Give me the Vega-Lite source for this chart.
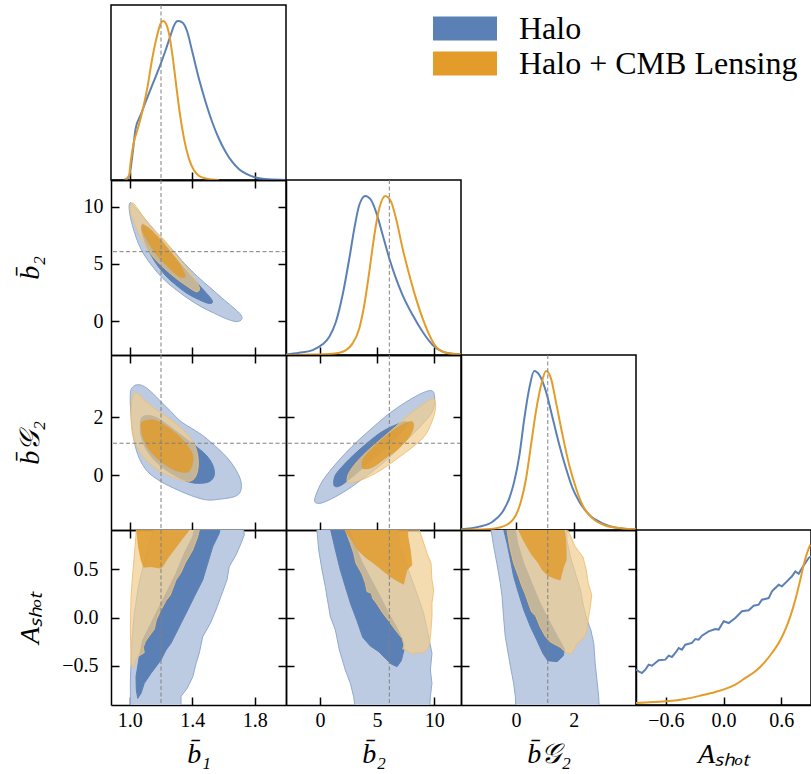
{
"$schema": "https://vega.github.io/schema/vega-lite/v6.json",
"background": "white",
"padding": {"left": 16, "top": 3, "right": 0, "bottom": 0},
"columns": 4, "spacing": 0, "bounds": "flush",
"config": {
 "view": {"stroke": null},
 "font": "Liberation Serif",
 "style": {"guide-label": {"font": "Liberation Serif", "fontSize": 20, "fill": "black"}, "guide-title": {"font": "Liberation Serif"}},
 "axis": {"domainColor": "black", "domainWidth": 1.5, "tickColor": "black", "tickWidth": 1.5, "tickSize": -8, "labelFont": "Liberation Serif", "labelFontSize": 20, "labelColor": "black", "grid": false, "zindex": 1, "titleFont": "Liberation Serif", "titleFontSize": 28, "titleFontStyle": "italic", "titleFontWeight": "normal", "titleColor": "black", "labelFlush": false}
},
"datasets": {
 "d_b1_H": [{"x":0.964,"y":0},{"x":0.996,"y":0.021},{"x":1.017,"y":0.157},{"x":1.038,"y":0.324},{"x":1.07,"y":0.409},{"x":1.102,"y":0.492},{"x":1.144,"y":0.597},{"x":1.187,"y":0.701},{"x":1.23,"y":0.817},{"x":1.262,"y":0.911},{"x":1.283,"y":0.97},{"x":1.308,"y":0.999},{"x":1.336,"y":0.991},{"x":1.368,"y":0.932},{"x":1.4,"y":0.807},{"x":1.442,"y":0.639},{"x":1.485,"y":0.492},{"x":1.527,"y":0.366},{"x":1.57,"y":0.261},{"x":1.613,"y":0.178},{"x":1.655,"y":0.115},{"x":1.698,"y":0.069},{"x":1.74,"y":0.041},{"x":1.804,"y":0.016},{"x":1.889,"y":0.004},{"x":2.0,"y":0}],
 "d_b1_C": [{"x":0.974,"y":0},{"x":0.996,"y":0.031},{"x":1.006,"y":0.115},{"x":1.027,"y":0.241},{"x":1.049,"y":0.314},{"x":1.08,"y":0.429},{"x":1.112,"y":0.576},{"x":1.144,"y":0.764},{"x":1.176,"y":0.911},{"x":1.198,"y":0.984},{"x":1.214,"y":0.999},{"x":1.234,"y":0.978},{"x":1.255,"y":0.901},{"x":1.276,"y":0.764},{"x":1.297,"y":0.597},{"x":1.319,"y":0.429},{"x":1.347,"y":0.262},{"x":1.378,"y":0.136},{"x":1.41,"y":0.063},{"x":1.442,"y":0.027},{"x":1.485,"y":0.01},{"x":1.57,"y":0}],
 "d_b2_H": [{"x":-2.97,"y":0.003},{"x":-1.81,"y":0.014},{"x":-0.64,"y":0.031},{"x":0.23,"y":0.067},{"x":0.82,"y":0.115},{"x":1.4,"y":0.209},{"x":1.98,"y":0.377},{"x":2.57,"y":0.607},{"x":3.01,"y":0.796},{"x":3.44,"y":0.943},{"x":3.97,"y":1.0},{"x":4.47,"y":0.974},{"x":4.9,"y":0.901},{"x":5.49,"y":0.754},{"x":6.07,"y":0.607},{"x":6.65,"y":0.482},{"x":7.23,"y":0.377},{"x":8.11,"y":0.251},{"x":8.98,"y":0.146},{"x":9.86,"y":0.063},{"x":10.73,"y":0.021},{"x":11.61,"y":0.008},{"x":12.34,"y":0.003}],
 "d_b2_C": [{"x":-2.97,"y":0},{"x":-0.64,"y":0.003},{"x":0.82,"y":0.006},{"x":1.69,"y":0.014},{"x":2.28,"y":0.031},{"x":2.86,"y":0.073},{"x":3.44,"y":0.167},{"x":3.88,"y":0.314},{"x":4.32,"y":0.524},{"x":4.76,"y":0.754},{"x":5.19,"y":0.922},{"x":5.72,"y":1.0},{"x":6.22,"y":0.964},{"x":6.65,"y":0.859},{"x":7.23,"y":0.67},{"x":7.82,"y":0.503},{"x":8.4,"y":0.356},{"x":8.98,"y":0.23},{"x":9.57,"y":0.126},{"x":10.15,"y":0.052},{"x":11.03,"y":0.014},{"x":12.34,"y":0.003}],
 "d_g_H": [{"x":-1.9,"y":0.004},{"x":-1.27,"y":0.021},{"x":-0.81,"y":0.052},{"x":-0.46,"y":0.115},{"x":-0.23,"y":0.199},{"x":-0.06,"y":0.304},{"x":0.12,"y":0.471},{"x":0.29,"y":0.702},{"x":0.46,"y":0.89},{"x":0.63,"y":1.0},{"x":0.81,"y":0.974},{"x":1.04,"y":0.869},{"x":1.27,"y":0.702},{"x":1.5,"y":0.534},{"x":1.73,"y":0.387},{"x":1.96,"y":0.261},{"x":2.19,"y":0.178},{"x":2.54,"y":0.094},{"x":2.99,"y":0.042},{"x":3.46,"y":0.015},{"x":4.15,"y":0.004}],
 "d_g_C": [{"x":-1.9,"y":0},{"x":-1.04,"y":0.004},{"x":-0.58,"y":0.015},{"x":-0.23,"y":0.042},{"x":0.0,"y":0.094},{"x":0.17,"y":0.178},{"x":0.35,"y":0.324},{"x":0.52,"y":0.534},{"x":0.69,"y":0.744},{"x":0.87,"y":0.911},{"x":1.04,"y":1.0},{"x":1.21,"y":0.953},{"x":1.38,"y":0.807},{"x":1.61,"y":0.597},{"x":1.84,"y":0.409},{"x":2.08,"y":0.261},{"x":2.3,"y":0.157},{"x":2.65,"y":0.073},{"x":3.11,"y":0.027},{"x":3.69,"y":0.01},{"x":4.15,"y":0.004}],
 "d_A_H": [{"x":-0.91,"y":0.222},{"x":-0.882,"y":0.212},{"x":-0.848,"y":0.201},{"x":-0.813,"y":0.222},{"x":-0.778,"y":0.254},{"x":-0.744,"y":0.247},{"x":-0.709,"y":0.264},{"x":-0.674,"y":0.281},{"x":-0.605,"y":0.285},{"x":-0.57,"y":0.31},{"x":-0.536,"y":0.302},{"x":-0.501,"y":0.327},{"x":-0.466,"y":0.358},{"x":-0.432,"y":0.348},{"x":-0.397,"y":0.379},{"x":-0.328,"y":0.39},{"x":-0.293,"y":0.415},{"x":-0.258,"y":0.411},{"x":-0.224,"y":0.436},{"x":-0.154,"y":0.463},{"x":-0.085,"y":0.478},{"x":-0.05,"y":0.474},{"x":0.002,"y":0.526},{"x":0.054,"y":0.515},{"x":0.123,"y":0.547},{"x":0.192,"y":0.589},{"x":0.262,"y":0.595},{"x":0.314,"y":0.624},{"x":0.366,"y":0.631},{"x":0.4,"y":0.662},{"x":0.47,"y":0.672},{"x":0.504,"y":0.714},{"x":0.539,"y":0.735},{"x":0.574,"y":0.756},{"x":0.608,"y":0.746},{"x":0.66,"y":0.777},{"x":0.712,"y":0.809},{"x":0.747,"y":0.84},{"x":0.782,"y":0.825},{"x":0.817,"y":0.861},{"x":0.851,"y":0.893},{"x":0.886,"y":0.924},{"x":0.91,"y":0.934}],
 "d_A_C": [{"x":-0.91,"y":0.013},{"x":-0.605,"y":0.023},{"x":-0.397,"y":0.038},{"x":-0.224,"y":0.061},{"x":-0.085,"y":0.082},{"x":0.019,"y":0.101},{"x":0.123,"y":0.128},{"x":0.227,"y":0.17},{"x":0.331,"y":0.212},{"x":0.435,"y":0.274},{"x":0.504,"y":0.327},{"x":0.574,"y":0.39},{"x":0.643,"y":0.474},{"x":0.695,"y":0.557},{"x":0.747,"y":0.662},{"x":0.799,"y":0.788},{"x":0.834,"y":0.882},{"x":0.869,"y":0.955},{"x":0.903,"y":1.008}],
 "c_12_BO": [{"x":1.008,"y":10.36},{"x":1.04,"y":9.86},{"x":1.093,"y":8.99},{"x":1.157,"y":7.97},{"x":1.221,"y":6.95},{"x":1.285,"y":6.07},{"x":1.349,"y":5.05},{"x":1.435,"y":3.88},{"x":1.52,"y":2.86},{"x":1.605,"y":1.84},{"x":1.669,"y":1.11},{"x":1.712,"y":0.53},{"x":1.716,"y":0.15},{"x":1.686,"y":-0.05},{"x":1.627,"y":0.15},{"x":1.541,"y":0.68},{"x":1.456,"y":1.26},{"x":1.371,"y":1.99},{"x":1.285,"y":2.86},{"x":1.211,"y":3.74},{"x":1.147,"y":4.76},{"x":1.093,"y":5.78},{"x":1.055,"y":6.8},{"x":1.029,"y":7.82},{"x":1.008,"y":8.84},{"x":0.997,"y":9.72},{"x":0.997,"y":10.15}],
 "c_12_BI": [{"x":1.083,"y":8.49},{"x":1.125,"y":7.97},{"x":1.2,"y":6.95},{"x":1.275,"y":5.78},{"x":1.349,"y":4.61},{"x":1.424,"y":3.45},{"x":1.488,"y":2.48},{"x":1.526,"y":1.84},{"x":1.524,"y":1.55},{"x":1.488,"y":1.61},{"x":1.424,"y":1.99},{"x":1.36,"y":2.48},{"x":1.296,"y":3.15},{"x":1.232,"y":3.94},{"x":1.168,"y":5.05},{"x":1.119,"y":6.22},{"x":1.089,"y":7.24},{"x":1.076,"y":7.97}],
 "c_12_OO": [{"x":1.012,"y":10.3},{"x":1.029,"y":10.24},{"x":1.072,"y":9.42},{"x":1.136,"y":8.26},{"x":1.221,"y":7.09},{"x":1.307,"y":5.63},{"x":1.392,"y":4.18},{"x":1.439,"y":3.15},{"x":1.445,"y":2.72},{"x":1.424,"y":2.57},{"x":1.371,"y":3.01},{"x":1.296,"y":3.74},{"x":1.221,"y":4.61},{"x":1.157,"y":5.49},{"x":1.104,"y":6.51},{"x":1.061,"y":7.53},{"x":1.025,"y":8.7},{"x":1.004,"y":9.57},{"x":1.002,"y":10.07}],
 "c_12_OI": [{"x":1.083,"y":8.4},{"x":1.125,"y":8.11},{"x":1.189,"y":7.24},{"x":1.253,"y":6.22},{"x":1.317,"y":5.05},{"x":1.354,"y":4.03},{"x":1.349,"y":3.83},{"x":1.317,"y":3.88},{"x":1.264,"y":4.47},{"x":1.211,"y":5.2},{"x":1.157,"y":6.07},{"x":1.115,"y":6.95},{"x":1.087,"y":7.67},{"x":1.076,"y":8.11}],
 "c_1g_BO": [{"x":1.012,"y":2.998},{"x":1.04,"y":3.113},{"x":1.083,"y":3.09},{"x":1.136,"y":2.882},{"x":1.2,"y":2.537},{"x":1.264,"y":2.191},{"x":1.328,"y":1.845},{"x":1.403,"y":1.592},{"x":1.477,"y":1.327},{"x":1.563,"y":0.923},{"x":1.627,"y":0.577},{"x":1.68,"y":0.174},{"x":1.712,"y":-0.229},{"x":1.708,"y":-0.575},{"x":1.669,"y":-0.748},{"x":1.584,"y":-0.828},{"x":1.499,"y":-0.863},{"x":1.413,"y":-0.748},{"x":1.307,"y":-0.517},{"x":1.2,"y":-0.229},{"x":1.115,"y":0.117},{"x":1.061,"y":0.577},{"x":1.029,"y":1.154},{"x":1.012,"y":1.845},{"x":1.004,"y":2.421},{"x":1.004,"y":2.825}],
 "c_1g_BI": [{"x":1.083,"y":2.018},{"x":1.157,"y":2.018},{"x":1.243,"y":1.73},{"x":1.328,"y":1.384},{"x":1.413,"y":1.039},{"x":1.488,"y":0.693},{"x":1.531,"y":0.347},{"x":1.541,"y":0.001},{"x":1.509,"y":-0.229},{"x":1.435,"y":-0.287},{"x":1.36,"y":-0.206},{"x":1.264,"y":0.059},{"x":1.179,"y":0.405},{"x":1.115,"y":0.808},{"x":1.076,"y":1.269},{"x":1.068,"y":1.672}],
 "c_1g_OO": [{"x":1.029,"y":2.825},{"x":1.055,"y":2.802},{"x":1.093,"y":2.594},{"x":1.157,"y":2.306},{"x":1.221,"y":2.076},{"x":1.307,"y":1.73},{"x":1.381,"y":1.327},{"x":1.424,"y":0.923},{"x":1.439,"y":0.462},{"x":1.43,"y":0.059},{"x":1.403,"y":-0.172},{"x":1.36,"y":-0.206},{"x":1.264,"y":-0.056},{"x":1.179,"y":0.174},{"x":1.104,"y":0.52},{"x":1.051,"y":0.923},{"x":1.019,"y":1.384},{"x":1.008,"y":1.96},{"x":1.012,"y":2.537}],
 "c_1g_OI": [{"x":1.083,"y":1.845},{"x":1.157,"y":1.903},{"x":1.253,"y":1.615},{"x":1.339,"y":1.211},{"x":1.403,"y":0.693},{"x":1.392,"y":0.232},{"x":1.36,"y":0.094},{"x":1.285,"y":0.174},{"x":1.2,"y":0.462},{"x":1.125,"y":0.866},{"x":1.083,"y":1.327},{"x":1.072,"y":1.672}],
 "c_2g_BO": [{"x":-0.46,"y":-0.92},{"x":-0.35,"y":-0.69},{"x":0.18,"y":-0.23},{"x":1.05,"y":0.23},{"x":2.22,"y":0.75},{"x":3.39,"y":1.21},{"x":4.55,"y":1.62},{"x":5.72,"y":2.02},{"x":6.89,"y":2.36},{"x":8.05,"y":2.65},{"x":9.22,"y":2.88},{"x":9.8,"y":2.91},{"x":10.01,"y":2.77},{"x":10.01,"y":2.42},{"x":9.66,"y":2.08},{"x":8.64,"y":1.62},{"x":7.47,"y":1.15},{"x":6.3,"y":0.69},{"x":5.14,"y":0.29},{"x":3.97,"y":-0.06},{"x":2.8,"y":-0.4},{"x":1.64,"y":-0.69},{"x":0.47,"y":-0.92},{"x":-0.11,"y":-0.98}],
 "c_2g_BI": [{"x":1.2,"y":-0.29},{"x":1.35,"y":0.0},{"x":2.08,"y":0.35},{"x":3.1,"y":0.75},{"x":4.26,"y":1.15},{"x":5.43,"y":1.5},{"x":6.6,"y":1.73},{"x":7.47,"y":1.85},{"x":7.62,"y":1.71},{"x":6.89,"y":1.38},{"x":5.72,"y":0.92},{"x":4.55,"y":0.52},{"x":3.39,"y":0.12},{"x":2.51,"y":-0.17},{"x":1.78,"y":-0.37},{"x":1.35,"y":-0.4}],
 "c_2g_OO": [{"x":2.37,"y":-0.21},{"x":2.51,"y":0.06},{"x":3.24,"y":0.46},{"x":4.26,"y":0.87},{"x":5.43,"y":1.27},{"x":6.6,"y":1.67},{"x":7.76,"y":2.08},{"x":8.93,"y":2.42},{"x":9.8,"y":2.63},{"x":10.09,"y":2.54},{"x":10.09,"y":2.25},{"x":9.8,"y":1.85},{"x":9.22,"y":1.38},{"x":8.34,"y":1.04},{"x":7.18,"y":0.69},{"x":6.01,"y":0.35},{"x":4.85,"y":0.06},{"x":3.82,"y":-0.14},{"x":2.95,"y":-0.25},{"x":2.51,"y":-0.26}],
 "c_2g_OI": [{"x":3.68,"y":0.29},{"x":3.82,"y":0.58},{"x":4.55,"y":0.92},{"x":5.72,"y":1.33},{"x":6.89,"y":1.67},{"x":7.91,"y":1.85},{"x":8.2,"y":1.73},{"x":7.91,"y":1.38},{"x":6.89,"y":0.92},{"x":5.72,"y":0.58},{"x":4.7,"y":0.29},{"x":3.97,"y":0.21}],
 "c_1A_BO": [{"x":1.004,"y":-1.0},{"x":1.004,"y":-0.65},{"x":1.008,"y":-0.48},{"x":1.014,"y":-0.23},{"x":1.029,"y":0.04},{"x":1.055,"y":0.32},{"x":1.089,"y":0.56},{"x":1.125,"y":0.77},{"x":1.153,"y":0.91},{"x":1.162,"y":0.98},{"x":1.729,"y":0.98},{"x":1.729,"y":0.91},{"x":1.733,"y":0.86},{"x":1.712,"y":0.77},{"x":1.68,"y":0.65},{"x":1.637,"y":0.53},{"x":1.622,"y":0.39},{"x":1.584,"y":0.22},{"x":1.552,"y":0.08},{"x":1.516,"y":-0.06},{"x":1.467,"y":-0.2},{"x":1.445,"y":-0.37},{"x":1.424,"y":-0.48},{"x":1.403,"y":-0.62},{"x":1.366,"y":-0.74},{"x":1.328,"y":-0.82},{"x":1.328,"y":-1.0}],
 "c_1A_BI": [{"x":1.424,"y":0.98},{"x":1.584,"y":0.98},{"x":1.573,"y":0.875},{"x":1.531,"y":0.737},{"x":1.499,"y":0.563},{"x":1.467,"y":0.39},{"x":1.413,"y":0.217},{"x":1.371,"y":0.078},{"x":1.328,"y":-0.061},{"x":1.296,"y":-0.165},{"x":1.264,"y":-0.269},{"x":1.232,"y":-0.338},{"x":1.2,"y":-0.442},{"x":1.136,"y":-0.581},{"x":1.093,"y":-0.685},{"x":1.072,"y":-0.789},{"x":1.051,"y":-0.841},{"x":1.042,"y":-0.754},{"x":1.04,"y":-0.615},{"x":1.061,"y":-0.407},{"x":1.083,"y":-0.234},{"x":1.136,"y":-0.061},{"x":1.189,"y":0.113},{"x":1.243,"y":0.286},{"x":1.296,"y":0.459},{"x":1.349,"y":0.667},{"x":1.403,"y":0.841}],
 "c_1A_OO": [{"x":1.046,"y":0.98},{"x":1.456,"y":0.98},{"x":1.435,"y":0.841},{"x":1.403,"y":0.702},{"x":1.354,"y":0.563},{"x":1.328,"y":0.466},{"x":1.296,"y":0.39},{"x":1.26,"y":0.234},{"x":1.232,"y":0.175},{"x":1.2,"y":0.078},{"x":1.17,"y":-0.026},{"x":1.157,"y":-0.123},{"x":1.125,"y":-0.193},{"x":1.1,"y":-0.251},{"x":1.087,"y":-0.31},{"x":1.093,"y":-0.366},{"x":1.051,"y":-0.407},{"x":1.034,"y":-0.459},{"x":1.029,"y":-0.511},{"x":1.017,"y":-0.518},{"x":1.008,"y":-0.459},{"x":1.004,"y":-0.13},{"x":1.008,"y":0.217},{"x":1.021,"y":0.494},{"x":1.034,"y":0.737},{"x":1.042,"y":0.91}],
 "c_1A_OI": [{"x":1.04,"y":0.98},{"x":1.386,"y":0.98},{"x":1.381,"y":0.91},{"x":1.339,"y":0.823},{"x":1.307,"y":0.754},{"x":1.275,"y":0.685},{"x":1.243,"y":0.615},{"x":1.217,"y":0.546},{"x":1.2,"y":0.511},{"x":1.136,"y":0.529},{"x":1.089,"y":0.522},{"x":1.072,"y":0.598},{"x":1.055,"y":0.737},{"x":1.044,"y":0.91}],
 "c_2A_BO": [{"x":-0.26,"y":0.98},{"x":6.74,"y":0.98},{"x":6.74,"y":0.91},{"x":7.03,"y":0.737},{"x":7.53,"y":0.563},{"x":8.05,"y":0.39},{"x":8.58,"y":0.217},{"x":9.07,"y":0.043},{"x":9.45,"y":-0.165},{"x":9.8,"y":-0.373},{"x":9.66,"y":-0.546},{"x":9.8,"y":-0.685},{"x":9.66,"y":-0.824},{"x":9.57,"y":-1.0},{"x":3.15,"y":-1.0},{"x":2.95,"y":-0.824},{"x":2.66,"y":-0.685},{"x":2.22,"y":-0.546},{"x":1.7,"y":-0.338},{"x":1.35,"y":-0.13},{"x":0.91,"y":0.009},{"x":0.76,"y":0.113},{"x":0.47,"y":0.321},{"x":0.18,"y":0.494},{"x":-0.11,"y":0.702},{"x":-0.26,"y":0.91}],
 "c_2A_BI": [{"x":0.76,"y":0.98},{"x":2.37,"y":0.98},{"x":3.1,"y":0.737},{"x":3.74,"y":0.563},{"x":4.5,"y":0.39},{"x":5.28,"y":0.217},{"x":6.01,"y":0.043},{"x":6.68,"y":-0.095},{"x":7.24,"y":-0.234},{"x":7.35,"y":-0.338},{"x":7.12,"y":-0.449},{"x":6.74,"y":-0.511},{"x":6.25,"y":-0.484},{"x":5.72,"y":-0.425},{"x":5.14,"y":-0.355},{"x":4.41,"y":-0.297},{"x":3.74,"y":-0.206},{"x":3.24,"y":-0.033},{"x":2.69,"y":0.14},{"x":2.22,"y":0.321},{"x":1.78,"y":0.494},{"x":1.35,"y":0.702},{"x":0.94,"y":0.91}],
 "c_2A_OO": [{"x":2.08,"y":0.98},{"x":8.58,"y":0.98},{"x":8.69,"y":0.91},{"x":8.99,"y":0.806},{"x":9.37,"y":0.667},{"x":9.72,"y":0.563},{"x":9.8,"y":0.39},{"x":9.95,"y":0.286},{"x":9.8,"y":0.147},{"x":9.8,"y":0.009},{"x":9.69,"y":-0.165},{"x":9.6,"y":-0.269},{"x":9.45,"y":-0.321},{"x":8.93,"y":-0.373},{"x":8.49,"y":-0.359},{"x":8.05,"y":-0.38},{"x":7.62,"y":-0.345},{"x":7.24,"y":-0.324},{"x":7.35,"y":-0.286},{"x":7.18,"y":-0.217},{"x":6.6,"y":-0.13},{"x":6.01,"y":-0.033},{"x":5.43,"y":0.057},{"x":4.99,"y":0.14},{"x":4.61,"y":0.199},{"x":4.5,"y":0.251},{"x":4.12,"y":0.269},{"x":3.97,"y":0.355},{"x":3.68,"y":0.452},{"x":3.15,"y":0.563},{"x":2.95,"y":0.667},{"x":2.66,"y":0.771},{"x":2.22,"y":0.91}],
 "c_2A_OI": [{"x":2.16,"y":0.98},{"x":7.62,"y":0.98},{"x":7.7,"y":0.841},{"x":7.91,"y":0.702},{"x":8.05,"y":0.546},{"x":7.62,"y":0.494},{"x":7.47,"y":0.425},{"x":7.32,"y":0.345},{"x":6.89,"y":0.373},{"x":6.16,"y":0.425},{"x":5.43,"y":0.494},{"x":4.7,"y":0.563},{"x":3.97,"y":0.626},{"x":3.24,"y":0.709},{"x":2.8,"y":0.806},{"x":2.16,"y":0.91}],
 "c_gA_BO": [{"x":-0.89,"y":0.98},{"x":1.74,"y":0.98},{"x":1.76,"y":0.806},{"x":1.88,"y":0.633},{"x":2.09,"y":0.425},{"x":2.23,"y":0.286},{"x":2.34,"y":0.113},{"x":2.46,"y":-0.026},{"x":2.59,"y":-0.13},{"x":2.69,"y":-0.269},{"x":2.74,"y":-0.477},{"x":2.8,"y":-0.65},{"x":2.86,"y":-0.824},{"x":2.89,"y":-1.0},{"x":0.01,"y":-1.0},{"x":-0.02,"y":-0.824},{"x":-0.08,"y":-0.685},{"x":-0.19,"y":-0.511},{"x":-0.25,"y":-0.407},{"x":-0.37,"y":-0.199},{"x":-0.43,"y":0.009},{"x":-0.48,"y":0.217},{"x":-0.54,"y":0.355},{"x":-0.66,"y":0.563},{"x":-0.77,"y":0.737},{"x":-0.86,"y":0.91}],
 "c_gA_BI": [{"x":-0.48,"y":0.98},{"x":-0.06,"y":0.98},{"x":0.06,"y":0.771},{"x":0.27,"y":0.563},{"x":0.55,"y":0.355},{"x":0.84,"y":0.147},{"x":1.13,"y":-0.026},{"x":1.44,"y":-0.199},{"x":1.68,"y":-0.331},{"x":1.63,"y":-0.401},{"x":1.42,"y":-0.459},{"x":1.1,"y":-0.449},{"x":0.93,"y":-0.373},{"x":0.73,"y":-0.241},{"x":0.5,"y":-0.095},{"x":0.27,"y":0.078},{"x":0.09,"y":0.251},{"x":-0.08,"y":0.425},{"x":-0.19,"y":0.598},{"x":-0.31,"y":0.771},{"x":-0.42,"y":0.91}],
 "c_gA_OO": [{"x":-0.37,"y":0.98},{"x":1.74,"y":0.98},{"x":1.79,"y":0.91},{"x":2.05,"y":0.737},{"x":2.32,"y":0.626},{"x":2.43,"y":0.494},{"x":2.5,"y":0.355},{"x":2.62,"y":0.234},{"x":2.57,"y":0.113},{"x":2.51,"y":0.002},{"x":2.46,"y":-0.102},{"x":2.43,"y":-0.165},{"x":2.28,"y":-0.234},{"x":2.11,"y":-0.269},{"x":2.06,"y":-0.31},{"x":1.9,"y":-0.38},{"x":1.74,"y":-0.366},{"x":1.53,"y":-0.31},{"x":1.19,"y":-0.255},{"x":1.02,"y":-0.199},{"x":0.84,"y":-0.102},{"x":0.68,"y":0.016},{"x":0.54,"y":0.057},{"x":0.44,"y":0.14},{"x":0.32,"y":0.244},{"x":0.21,"y":0.321},{"x":0.09,"y":0.425},{"x":-0.08,"y":0.563},{"x":-0.22,"y":0.737},{"x":-0.31,"y":0.91}],
 "c_gA_OI": [{"x":0.04,"y":0.98},{"x":1.71,"y":0.98},{"x":1.67,"y":0.91},{"x":1.72,"y":0.806},{"x":1.74,"y":0.702},{"x":1.74,"y":0.598},{"x":1.65,"y":0.529},{"x":1.58,"y":0.452},{"x":1.53,"y":0.39},{"x":1.36,"y":0.404},{"x":1.1,"y":0.438},{"x":0.91,"y":0.494},{"x":0.78,"y":0.563},{"x":0.55,"y":0.65},{"x":0.38,"y":0.737},{"x":0.24,"y":0.813},{"x":0.09,"y":0.91}]
},
"concat": [
 {"width":175,"height":175,"view":{"stroke":"black","strokeWidth":1.5},"resolve":{"axis":{"x":"independent","y":"independent"}},
  "layer":[
   {"data":{"name":"d_b1_H"},"mark":{"type":"line","interpolate":"monotone","stroke":"#5b80b5","strokeWidth":2,"clip":true},
    "encoding":{"x":{"field":"x","type":"quantitative","scale":{"domain":[0.88,2.0],"nice":false,"zero":false},"axis":{"orient":"bottom","values":[1.0,1.4,1.8],"labels":false,"title":null}},
                "y":{"field":"y","type":"quantitative","scale":{"domain":[0,1.1],"nice":false,"zero":false},"axis":null}}},
   {"data":{"name":"d_b1_C"},"mark":{"type":"line","interpolate":"monotone","stroke":"#e39c2a","strokeWidth":2,"clip":true},
    "encoding":{"x":{"field":"x","type":"quantitative","scale":{"domain":[0.88,2.0],"nice":false,"zero":false},"axis":null},
                "y":{"field":"y","type":"quantitative","scale":{"domain":[0,1.1],"nice":false,"zero":false},"axis":null}}},
   {"data":{"values":[{"v":1.2}]},"mark":{"type":"rule","stroke":"#808080","strokeWidth":1,"strokeDash":[4,2.5]},
    "encoding":{"x":{"field":"v","type":"quantitative","scale":{"domain":[0.88,2.0],"nice":false,"zero":false},"axis":null}}}
  ]},
 {"width":175,"height":175,"data":{"values":[{"s":"Halo"},{"s":"Halo + CMB Lensing"}]},"mark":{"type":"point","filled":true,"opacity":0},
  "encoding":{"color":{"field":"s","type":"nominal","scale":{"domain":["Halo","Halo + CMB Lensing"],"range":["#5b80b5","#e39c2a"]},
   "legend":{"title":null,"orient":"none","legendX":338,"legendY":7.5,"symbolType":"M-2.667,-1H2.667V1H-2.667Z","symbolSize":576,"symbolOpacity":1,"symbolStrokeWidth":0,"labelFont":"Liberation Serif","labelFontSize":32,"labelColor":"black","labelOffset":38,"labelLimit":600,"padding":0,"rowPadding":3}}}},
 {"width":175,"height":175,"data":{"values":[{"a":1}]},"mark":{"type":"point","opacity":0},"encoding":{}},
 {"width":175,"height":175,"data":{"values":[{"a":1}]},"mark":{"type":"point","opacity":0},"encoding":{}},

 {"width":175,"height":175,"resolve":{"axis":{"x":"independent","y":"independent"}},
  "layer":[
   {"data":{"name":"c_12_BO"},"mark":{"type":"line","interpolate":"cardinal-closed","filled":true,"fill":"#bccbe1","stroke":"#8faad0","strokeWidth":1,"clip":true},
    "encoding":{"x":{"field":"x","type":"quantitative","scale":{"domain":[0.88,2.0],"nice":false,"zero":false},"axis":{"orient":"bottom","values":[1.0,1.4,1.8],"labels":false,"title":null}},
                "y":{"field":"y","type":"quantitative","scale":{"domain":[-2.97,12.34],"nice":false,"zero":false},"axis":{"orient":"left","values":[0,5,10],"format":"d","labelFont":"Liberation Serif","labelFontSize":20,"labelPadding":16,"title":"b̄₂","titleX":-73,"titleY":87.5,"titleAngle":-90,"titleBaseline":"alphabetic","titleAlign":"center"}},
                "order":{"value":null}}},
   {"data":{"name":"c_12_BI"},"mark":{"type":"line","interpolate":"cardinal-closed","filled":true,"fill":"#5b80b5","stroke":"#5b80b5","strokeWidth":1,"clip":true},
    "encoding":{"x":{"field":"x","type":"quantitative","scale":{"domain":[0.88,2.0],"nice":false,"zero":false},"axis":{"orient":"top","values":[1.0,1.4,1.8],"labels":false,"title":null}},
                "y":{"field":"y","type":"quantitative","scale":{"domain":[-2.97,12.34],"nice":false,"zero":false},"axis":{"orient":"right","values":[0,5,10],"labels":false,"title":null}},
                "order":{"value":null}}},
   {"data":{"name":"c_12_OO"},"mark":{"type":"line","interpolate":"cardinal-closed","filled":true,"fill":"#f0cc8e","fillOpacity":0.7,"stroke":"#eebf72","strokeOpacity":0.9,"strokeWidth":1,"clip":true},
    "encoding":{"x":{"field":"x","type":"quantitative","scale":{"domain":[0.88,2.0],"nice":false,"zero":false},"axis":null},
                "y":{"field":"y","type":"quantitative","scale":{"domain":[-2.97,12.34],"nice":false,"zero":false},"axis":null},"order":{"value":null}}},
   {"data":{"name":"c_12_OI"},"mark":{"type":"line","interpolate":"cardinal-closed","filled":true,"fill":"#e09b2d","fillOpacity":0.85,"stroke":"#e09b2d","strokeOpacity":0.5,"strokeWidth":1,"clip":true},
    "encoding":{"x":{"field":"x","type":"quantitative","scale":{"domain":[0.88,2.0],"nice":false,"zero":false},"axis":null},
                "y":{"field":"y","type":"quantitative","scale":{"domain":[-2.97,12.34],"nice":false,"zero":false},"axis":null},"order":{"value":null}}},
   {"data":{"values":[{"v":1.2}]},"mark":{"type":"rule","stroke":"#808080","strokeWidth":1,"strokeDash":[4,2.5]},
    "encoding":{"x":{"field":"v","type":"quantitative","scale":{"domain":[0.88,2.0],"nice":false,"zero":false},"axis":null}}},
   {"data":{"values":[{"v":6.07}]},"mark":{"type":"rule","stroke":"#808080","strokeWidth":1,"strokeDash":[4,2.5]},
    "encoding":{"y":{"field":"v","type":"quantitative","scale":{"domain":[-2.97,12.34],"nice":false,"zero":false},"axis":null}}}
  ]},
 {"width":175,"height":175,"view":{"stroke":"black","strokeWidth":1.5},"resolve":{"axis":{"x":"independent","y":"independent"}},
  "layer":[
   {"data":{"name":"d_b2_H"},"mark":{"type":"line","interpolate":"monotone","stroke":"#5b80b5","strokeWidth":2,"clip":true},
    "encoding":{"x":{"field":"x","type":"quantitative","scale":{"domain":[-2.97,12.34],"nice":false,"zero":false},"axis":{"orient":"bottom","values":[0,5,10],"labels":false,"title":null}},
                "y":{"field":"y","type":"quantitative","scale":{"domain":[0,1.1],"nice":false,"zero":false},"axis":null}}},
   {"data":{"name":"d_b2_C"},"mark":{"type":"line","interpolate":"monotone","stroke":"#e39c2a","strokeWidth":2,"clip":true},
    "encoding":{"x":{"field":"x","type":"quantitative","scale":{"domain":[-2.97,12.34],"nice":false,"zero":false},"axis":null},
                "y":{"field":"y","type":"quantitative","scale":{"domain":[0,1.1],"nice":false,"zero":false},"axis":null}}},
   {"data":{"values":[{"v":6.07}]},"mark":{"type":"rule","stroke":"#808080","strokeWidth":1,"strokeDash":[4,2.5]},
    "encoding":{"x":{"field":"v","type":"quantitative","scale":{"domain":[-2.97,12.34],"nice":false,"zero":false},"axis":null}}}
  ]},
 {"width":175,"height":175,"data":{"values":[{"a":1}]},"mark":{"type":"point","opacity":0},"encoding":{}},
 {"width":175,"height":175,"data":{"values":[{"a":1}]},"mark":{"type":"point","opacity":0},"encoding":{}},

 {"width":175,"height":175,"resolve":{"axis":{"x":"independent","y":"independent"}},
  "layer":[
   {"data":{"name":"c_1g_BO"},"mark":{"type":"line","interpolate":"cardinal-closed","filled":true,"fill":"#bccbe1","stroke":"#8faad0","strokeWidth":1,"clip":true},
    "encoding":{"x":{"field":"x","type":"quantitative","scale":{"domain":[0.88,2.0],"nice":false,"zero":false},"axis":{"orient":"bottom","values":[1.0,1.4,1.8],"labels":false,"title":null}},
                "y":{"field":"y","type":"quantitative","scale":{"domain":[-1.9,4.15],"nice":false,"zero":false},"axis":{"orient":"left","values":[0,2],"format":"d","labelFont":"Liberation Serif","labelFontSize":20,"labelPadding":16,"title":"b̄𝒢₂","titleX":-73,"titleY":87.5,"titleAngle":-90,"titleBaseline":"alphabetic","titleAlign":"center"}},
                "order":{"value":null}}},
   {"data":{"name":"c_1g_BI"},"mark":{"type":"line","interpolate":"cardinal-closed","filled":true,"fill":"#5b80b5","stroke":"#5b80b5","strokeWidth":1,"clip":true},
    "encoding":{"x":{"field":"x","type":"quantitative","scale":{"domain":[0.88,2.0],"nice":false,"zero":false},"axis":{"orient":"top","values":[1.0,1.4,1.8],"labels":false,"title":null}},
                "y":{"field":"y","type":"quantitative","scale":{"domain":[-1.9,4.15],"nice":false,"zero":false},"axis":{"orient":"right","values":[0,2],"labels":false,"title":null}},
                "order":{"value":null}}},
   {"data":{"name":"c_1g_OO"},"mark":{"type":"line","interpolate":"cardinal-closed","filled":true,"fill":"#f0cc8e","fillOpacity":0.7,"stroke":"#eebf72","strokeOpacity":0.9,"strokeWidth":1,"clip":true},
    "encoding":{"x":{"field":"x","type":"quantitative","scale":{"domain":[0.88,2.0],"nice":false,"zero":false},"axis":null},
                "y":{"field":"y","type":"quantitative","scale":{"domain":[-1.9,4.15],"nice":false,"zero":false},"axis":null},"order":{"value":null}}},
   {"data":{"name":"c_1g_OI"},"mark":{"type":"line","interpolate":"cardinal-closed","filled":true,"fill":"#e09b2d","fillOpacity":0.85,"stroke":"#e09b2d","strokeOpacity":0.5,"strokeWidth":1,"clip":true},
    "encoding":{"x":{"field":"x","type":"quantitative","scale":{"domain":[0.88,2.0],"nice":false,"zero":false},"axis":null},
                "y":{"field":"y","type":"quantitative","scale":{"domain":[-1.9,4.15],"nice":false,"zero":false},"axis":null},"order":{"value":null}}},
   {"data":{"values":[{"v":1.2}]},"mark":{"type":"rule","stroke":"#808080","strokeWidth":1,"strokeDash":[4,2.5]},
    "encoding":{"x":{"field":"v","type":"quantitative","scale":{"domain":[0.88,2.0],"nice":false,"zero":false},"axis":null}}},
   {"data":{"values":[{"v":1.1}]},"mark":{"type":"rule","stroke":"#808080","strokeWidth":1,"strokeDash":[4,2.5]},
    "encoding":{"y":{"field":"v","type":"quantitative","scale":{"domain":[-1.9,4.15],"nice":false,"zero":false},"axis":null}}}
  ]},
 {"width":175,"height":175,"resolve":{"axis":{"x":"independent","y":"independent"}},
  "layer":[
   {"data":{"name":"c_2g_BO"},"mark":{"type":"line","interpolate":"cardinal-closed","filled":true,"fill":"#bccbe1","stroke":"#8faad0","strokeWidth":1,"clip":true},
    "encoding":{"x":{"field":"x","type":"quantitative","scale":{"domain":[-2.97,12.34],"nice":false,"zero":false},"axis":{"orient":"bottom","values":[0,5,10],"labels":false,"title":null}},
                "y":{"field":"y","type":"quantitative","scale":{"domain":[-1.9,4.15],"nice":false,"zero":false},"axis":{"orient":"left","values":[0,2],"labels":false,"title":null}},
                "order":{"value":null}}},
   {"data":{"name":"c_2g_BI"},"mark":{"type":"line","interpolate":"cardinal-closed","filled":true,"fill":"#5b80b5","stroke":"#5b80b5","strokeWidth":1,"clip":true},
    "encoding":{"x":{"field":"x","type":"quantitative","scale":{"domain":[-2.97,12.34],"nice":false,"zero":false},"axis":{"orient":"top","values":[0,5,10],"labels":false,"title":null}},
                "y":{"field":"y","type":"quantitative","scale":{"domain":[-1.9,4.15],"nice":false,"zero":false},"axis":{"orient":"right","values":[0,2],"labels":false,"title":null}},
                "order":{"value":null}}},
   {"data":{"name":"c_2g_OO"},"mark":{"type":"line","interpolate":"cardinal-closed","filled":true,"fill":"#f0cc8e","fillOpacity":0.7,"stroke":"#eebf72","strokeOpacity":0.9,"strokeWidth":1,"clip":true},
    "encoding":{"x":{"field":"x","type":"quantitative","scale":{"domain":[-2.97,12.34],"nice":false,"zero":false},"axis":null},
                "y":{"field":"y","type":"quantitative","scale":{"domain":[-1.9,4.15],"nice":false,"zero":false},"axis":null},"order":{"value":null}}},
   {"data":{"name":"c_2g_OI"},"mark":{"type":"line","interpolate":"cardinal-closed","filled":true,"fill":"#e09b2d","fillOpacity":0.85,"stroke":"#e09b2d","strokeOpacity":0.5,"strokeWidth":1,"clip":true},
    "encoding":{"x":{"field":"x","type":"quantitative","scale":{"domain":[-2.97,12.34],"nice":false,"zero":false},"axis":null},
                "y":{"field":"y","type":"quantitative","scale":{"domain":[-1.9,4.15],"nice":false,"zero":false},"axis":null},"order":{"value":null}}},
   {"data":{"values":[{"v":6.07}]},"mark":{"type":"rule","stroke":"#808080","strokeWidth":1,"strokeDash":[4,2.5]},
    "encoding":{"x":{"field":"v","type":"quantitative","scale":{"domain":[-2.97,12.34],"nice":false,"zero":false},"axis":null}}},
   {"data":{"values":[{"v":1.1}]},"mark":{"type":"rule","stroke":"#808080","strokeWidth":1,"strokeDash":[4,2.5]},
    "encoding":{"y":{"field":"v","type":"quantitative","scale":{"domain":[-1.9,4.15],"nice":false,"zero":false},"axis":null}}}
  ]},
 {"width":175,"height":175,"view":{"stroke":"black","strokeWidth":1.5},"resolve":{"axis":{"x":"independent","y":"independent"}},
  "layer":[
   {"data":{"name":"d_g_H"},"mark":{"type":"line","interpolate":"monotone","stroke":"#5b80b5","strokeWidth":2,"clip":true},
    "encoding":{"x":{"field":"x","type":"quantitative","scale":{"domain":[-1.9,4.15],"nice":false,"zero":false},"axis":{"orient":"bottom","values":[0,2],"labels":false,"title":null}},
                "y":{"field":"y","type":"quantitative","scale":{"domain":[0,1.1],"nice":false,"zero":false},"axis":null}}},
   {"data":{"name":"d_g_C"},"mark":{"type":"line","interpolate":"monotone","stroke":"#e39c2a","strokeWidth":2,"clip":true},
    "encoding":{"x":{"field":"x","type":"quantitative","scale":{"domain":[-1.9,4.15],"nice":false,"zero":false},"axis":null},
                "y":{"field":"y","type":"quantitative","scale":{"domain":[0,1.1],"nice":false,"zero":false},"axis":null}}},
   {"data":{"values":[{"v":1.1}]},"mark":{"type":"rule","stroke":"#808080","strokeWidth":1,"strokeDash":[4,2.5]},
    "encoding":{"x":{"field":"v","type":"quantitative","scale":{"domain":[-1.9,4.15],"nice":false,"zero":false},"axis":null}}}
  ]},
 {"width":175,"height":175,"data":{"values":[{"a":1}]},"mark":{"type":"point","opacity":0},"encoding":{}},

 {"width":175,"height":175,"resolve":{"axis":{"x":"independent","y":"independent"}},
  "layer":[
   {"data":{"name":"c_1A_BO"},"mark":{"type":"line","interpolate":"linear-closed","filled":true,"fill":"#bccbe1","stroke":"#8faad0","strokeWidth":1,"clip":true},
    "encoding":{"x":{"field":"x","type":"quantitative","scale":{"domain":[0.88,2.0],"nice":false,"zero":false},"axis":{"orient":"bottom","values":[1.0,1.4,1.8],"format":".1f","labelFont":"Liberation Serif","labelFontSize":20,"labelPadding":13,"title":"b̄₁","titleX":87.5,"titleY":57,"titleBaseline":"alphabetic","titleAlign":"center"}},
                "y":{"field":"y","type":"quantitative","scale":{"domain":[-0.91,0.91],"nice":false,"zero":false},"axis":{"orient":"left","values":[-0.5,0,0.5],"format":".1f","labelFont":"Liberation Serif","labelFontSize":20,"labelPadding":21,"title":"Aₛₕₒₜ","titleX":-73,"titleY":87.5,"titleAngle":-90,"titleBaseline":"alphabetic","titleAlign":"center"}},
                "order":{"value":null}}},
   {"data":{"name":"c_1A_BI"},"mark":{"type":"line","interpolate":"linear-closed","filled":true,"fill":"#5b80b5","stroke":"#5b80b5","strokeWidth":1,"clip":true},
    "encoding":{"x":{"field":"x","type":"quantitative","scale":{"domain":[0.88,2.0],"nice":false,"zero":false},"axis":{"orient":"top","values":[1.0,1.4,1.8],"labels":false,"title":null}},
                "y":{"field":"y","type":"quantitative","scale":{"domain":[-0.91,0.91],"nice":false,"zero":false},"axis":{"orient":"right","values":[-0.5,0,0.5],"labels":false,"title":null}},
                "order":{"value":null}}},
   {"data":{"name":"c_1A_OO"},"mark":{"type":"line","interpolate":"linear-closed","filled":true,"fill":"#f0cc8e","fillOpacity":0.7,"stroke":"#eebf72","strokeOpacity":0.9,"strokeWidth":1,"clip":true},
    "encoding":{"x":{"field":"x","type":"quantitative","scale":{"domain":[0.88,2.0],"nice":false,"zero":false},"axis":null},
                "y":{"field":"y","type":"quantitative","scale":{"domain":[-0.91,0.91],"nice":false,"zero":false},"axis":null},"order":{"value":null}}},
   {"data":{"name":"c_1A_OI"},"mark":{"type":"line","interpolate":"linear-closed","filled":true,"fill":"#e09b2d","fillOpacity":0.85,"stroke":"#e09b2d","strokeOpacity":0.5,"strokeWidth":1,"clip":true},
    "encoding":{"x":{"field":"x","type":"quantitative","scale":{"domain":[0.88,2.0],"nice":false,"zero":false},"axis":null},
                "y":{"field":"y","type":"quantitative","scale":{"domain":[-0.91,0.91],"nice":false,"zero":false},"axis":null},"order":{"value":null}}},
   {"data":{"values":[{"v":1.2}]},"mark":{"type":"rule","stroke":"#808080","strokeWidth":1,"strokeDash":[4,2.5]},
    "encoding":{"x":{"field":"v","type":"quantitative","scale":{"domain":[0.88,2.0],"nice":false,"zero":false},"axis":null}}}
  ]},
 {"width":175,"height":175,"resolve":{"axis":{"x":"independent","y":"independent"}},
  "layer":[
   {"data":{"name":"c_2A_BO"},"mark":{"type":"line","interpolate":"linear-closed","filled":true,"fill":"#bccbe1","stroke":"#8faad0","strokeWidth":1,"clip":true},
    "encoding":{"x":{"field":"x","type":"quantitative","scale":{"domain":[-2.97,12.34],"nice":false,"zero":false},"axis":{"orient":"bottom","values":[0,5,10],"format":"d","labelFont":"Liberation Serif","labelFontSize":20,"labelPadding":13,"title":"b̄₂","titleX":87.5,"titleY":57,"titleBaseline":"alphabetic","titleAlign":"center"}},
                "y":{"field":"y","type":"quantitative","scale":{"domain":[-0.91,0.91],"nice":false,"zero":false},"axis":{"orient":"left","values":[-0.5,0,0.5],"labels":false,"title":null}},
                "order":{"value":null}}},
   {"data":{"name":"c_2A_BI"},"mark":{"type":"line","interpolate":"linear-closed","filled":true,"fill":"#5b80b5","stroke":"#5b80b5","strokeWidth":1,"clip":true},
    "encoding":{"x":{"field":"x","type":"quantitative","scale":{"domain":[-2.97,12.34],"nice":false,"zero":false},"axis":{"orient":"top","values":[0,5,10],"labels":false,"title":null}},
                "y":{"field":"y","type":"quantitative","scale":{"domain":[-0.91,0.91],"nice":false,"zero":false},"axis":{"orient":"right","values":[-0.5,0,0.5],"labels":false,"title":null}},
                "order":{"value":null}}},
   {"data":{"name":"c_2A_OO"},"mark":{"type":"line","interpolate":"linear-closed","filled":true,"fill":"#f0cc8e","fillOpacity":0.7,"stroke":"#eebf72","strokeOpacity":0.9,"strokeWidth":1,"clip":true},
    "encoding":{"x":{"field":"x","type":"quantitative","scale":{"domain":[-2.97,12.34],"nice":false,"zero":false},"axis":null},
                "y":{"field":"y","type":"quantitative","scale":{"domain":[-0.91,0.91],"nice":false,"zero":false},"axis":null},"order":{"value":null}}},
   {"data":{"name":"c_2A_OI"},"mark":{"type":"line","interpolate":"linear-closed","filled":true,"fill":"#e09b2d","fillOpacity":0.85,"stroke":"#e09b2d","strokeOpacity":0.5,"strokeWidth":1,"clip":true},
    "encoding":{"x":{"field":"x","type":"quantitative","scale":{"domain":[-2.97,12.34],"nice":false,"zero":false},"axis":null},
                "y":{"field":"y","type":"quantitative","scale":{"domain":[-0.91,0.91],"nice":false,"zero":false},"axis":null},"order":{"value":null}}},
   {"data":{"values":[{"v":6.07}]},"mark":{"type":"rule","stroke":"#808080","strokeWidth":1,"strokeDash":[4,2.5]},
    "encoding":{"x":{"field":"v","type":"quantitative","scale":{"domain":[-2.97,12.34],"nice":false,"zero":false},"axis":null}}}
  ]},
 {"width":175,"height":175,"resolve":{"axis":{"x":"independent","y":"independent"}},
  "layer":[
   {"data":{"name":"c_gA_BO"},"mark":{"type":"line","interpolate":"linear-closed","filled":true,"fill":"#bccbe1","stroke":"#8faad0","strokeWidth":1,"clip":true},
    "encoding":{"x":{"field":"x","type":"quantitative","scale":{"domain":[-1.9,4.15],"nice":false,"zero":false},"axis":{"orient":"bottom","values":[0,2],"format":"d","labelFont":"Liberation Serif","labelFontSize":20,"labelPadding":13,"title":"b̄𝒢₂","titleX":87.5,"titleY":57,"titleBaseline":"alphabetic","titleAlign":"center"}},
                "y":{"field":"y","type":"quantitative","scale":{"domain":[-0.91,0.91],"nice":false,"zero":false},"axis":{"orient":"left","values":[-0.5,0,0.5],"labels":false,"title":null}},
                "order":{"value":null}}},
   {"data":{"name":"c_gA_BI"},"mark":{"type":"line","interpolate":"linear-closed","filled":true,"fill":"#5b80b5","stroke":"#5b80b5","strokeWidth":1,"clip":true},
    "encoding":{"x":{"field":"x","type":"quantitative","scale":{"domain":[-1.9,4.15],"nice":false,"zero":false},"axis":{"orient":"top","values":[0,2],"labels":false,"title":null}},
                "y":{"field":"y","type":"quantitative","scale":{"domain":[-0.91,0.91],"nice":false,"zero":false},"axis":{"orient":"right","values":[-0.5,0,0.5],"labels":false,"title":null}},
                "order":{"value":null}}},
   {"data":{"name":"c_gA_OO"},"mark":{"type":"line","interpolate":"linear-closed","filled":true,"fill":"#f0cc8e","fillOpacity":0.7,"stroke":"#eebf72","strokeOpacity":0.9,"strokeWidth":1,"clip":true},
    "encoding":{"x":{"field":"x","type":"quantitative","scale":{"domain":[-1.9,4.15],"nice":false,"zero":false},"axis":null},
                "y":{"field":"y","type":"quantitative","scale":{"domain":[-0.91,0.91],"nice":false,"zero":false},"axis":null},"order":{"value":null}}},
   {"data":{"name":"c_gA_OI"},"mark":{"type":"line","interpolate":"linear-closed","filled":true,"fill":"#e09b2d","fillOpacity":0.85,"stroke":"#e09b2d","strokeOpacity":0.5,"strokeWidth":1,"clip":true},
    "encoding":{"x":{"field":"x","type":"quantitative","scale":{"domain":[-1.9,4.15],"nice":false,"zero":false},"axis":null},
                "y":{"field":"y","type":"quantitative","scale":{"domain":[-0.91,0.91],"nice":false,"zero":false},"axis":null},"order":{"value":null}}},
   {"data":{"values":[{"v":1.1}]},"mark":{"type":"rule","stroke":"#808080","strokeWidth":1,"strokeDash":[4,2.5]},
    "encoding":{"x":{"field":"v","type":"quantitative","scale":{"domain":[-1.9,4.15],"nice":false,"zero":false},"axis":null}}}
  ]},
 {"width":175,"height":175,"view":{"stroke":"black","strokeWidth":1.5},"resolve":{"axis":{"x":"independent","y":"independent"}},
  "layer":[
   {"data":{"name":"d_A_H"},"mark":{"type":"line","interpolate":"linear","stroke":"#5b80b5","strokeWidth":2,"clip":true},
    "encoding":{"x":{"field":"x","type":"quantitative","scale":{"domain":[-0.91,0.91],"nice":false,"zero":false},"axis":{"orient":"bottom","values":[-0.6,0,0.6],"format":".1f","labelFont":"Liberation Serif","labelFontSize":20,"labelPadding":13,"title":"Aₛₕₒₜ","titleX":87.5,"titleY":57,"titleBaseline":"alphabetic","titleAlign":"center"}},
                "y":{"field":"y","type":"quantitative","scale":{"domain":[0,1.1],"nice":false,"zero":false},"axis":null}}},
   {"data":{"name":"d_A_C"},"mark":{"type":"line","interpolate":"monotone","stroke":"#e39c2a","strokeWidth":2,"clip":true},
    "encoding":{"x":{"field":"x","type":"quantitative","scale":{"domain":[-0.91,0.91],"nice":false,"zero":false},"axis":null},
                "y":{"field":"y","type":"quantitative","scale":{"domain":[0,1.1],"nice":false,"zero":false},"axis":null}}}
  ]}
]
}
